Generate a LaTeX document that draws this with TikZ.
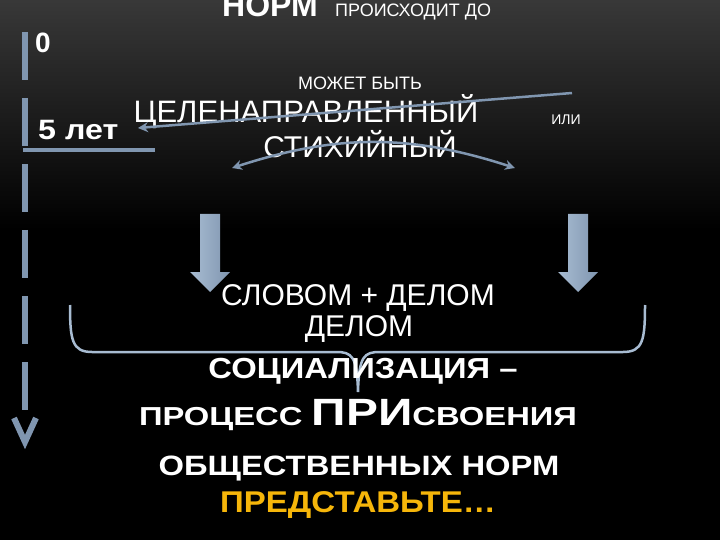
\documentclass[tikz,border=0pt]{standalone}
\usepackage{graphicx}
\usepackage{fontspec}
\setmainfont{Liberation Sans}
\usetikzlibrary{arrows.meta}

\definecolor{steel}{RGB}{128,150,176}
\definecolor{steellight}{RGB}{168,188,210}
\definecolor{gold}{RGB}{246,182,10}
\definecolor{glow}{RGB}{200,135,60}
\definecolor{topgray}{RGB}{56,56,56}

\newcommand\fsz[1]{\fontsize{#1}{#1}\selectfont}
\newcommand\widen[2]{\scalebox{#1}[1]{#2}}

\tikzset{
  txt/.style={text=white, inner sep=0pt, anchor=base},
  thinarrow/.style={draw=steel, line width=2.5pt, -{Stealth[length=10pt,width=10pt]}},
  timeline/.style={draw=steel, line width=6pt},
}

\begin{document}
\begin{tikzpicture}[x=1pt, y=-1pt]

%% background
\fill[black] (0,0) rectangle (720,540);
\shade[top color=topgray, bottom color=black] (0,0) rectangle (720,230);
\shade[left color=black, middle color=glow, right color=black] (45,466) rectangle (690,469);
\useasboundingbox (0,0) rectangle (720,540);

%% time axis
\coordinate (t0) at (25,32);
\coordinate (t1) at (25,410);
\draw[timeline, dash pattern=on 48pt off 18pt] (t0) -- (t1);
\draw[timeline, line width=4pt] (23,150) -- (155,150);
\draw[timeline, miter limit=20] (14,418) -- (25,442) -- (36,418);

\node[txt, anchor=base west] (zero) at (35,53) {\fsz{28}\bfseries 0};
\node[txt, anchor=base west] (five) at (38,140) {\widen{1.15}{\fsz{28}\bfseries 5 лет}};

%% title line (cut off)
\node[txt, anchor=base west] (norm) at (222,17) {\fsz{32}\bfseries НОРМ};
\node[txt, anchor=base west] (occurs) at (335,17) {\fsz{18}ПРОИСХОДИТ ДО};

%% two kinds
\node[txt] (maybe) at (360,90) {\fsz{18}МОЖЕТ БЫТЬ};
\node[txt] (purpose) at (306,123) {\fsz{31}ЦЕЛЕНАПРАВЛЕННЫЙ};
\node[txt] (ili) at (566,125) {\fsz{14}ИЛИ};
\node[txt] (spont) at (360,158) {\fsz{30}СТИХИЙНЫЙ};

\coordinate (a1) at (572,93);
\coordinate (a2) at (138,128);
\draw[thinarrow] (a1) -- (a2);
\coordinate (c1) at (232,168);
\coordinate (c2) at (515,168);
\draw[thinarrow, {Stealth[length=10pt,width=10pt]}-{Stealth[length=10pt,width=10pt]}] (c1) to[bend left=18] (c2);

%% block arrows
\foreach \x in {210,578}{
  \shade[left color=steellight, right color=steel]
    (\x-10,214) -- (\x+10,214) -- (\x+10,272) -- (\x+20,272)
    -- (\x,292) -- (\x-20,272) -- (\x-10,272) -- cycle;
}

\node[txt] (wordsdeed) at (358,305) {\fsz{30}СЛОВОМ + ДЕЛОМ};
\node[txt] (deed) at (359,336) {\fsz{30}ДЕЛОМ};

%% brace
\draw[steellight, line width=2.5pt]
  (70,305) .. controls (70,340) and (72,352) .. (92,352) -- (336,352)
  .. controls (352,352) and (357,356) .. (358,392)
  .. controls (359,356) and (364,352) .. (380,352) -- (623,352)
  .. controls (643,352) and (645,340) .. (645,305);

\node[txt] (social) at (363,378) {\widen{1.13}{\fsz{29}\bfseries СОЦИАЛИЗАЦИЯ –}};
\node[txt] (process) at (358,425)
  {\widen{1.26}{\bfseries\fsz{26}ПРОЦЕСС \fsz{38}ПРИ\fsz{26}СВОЕНИЯ}};
\node[txt] (norms) at (359,475) {\widen{1.17}{\fsz{28}\bfseries ОБЩЕСТВЕННЫХ НОРМ}};
\node[txt, text=gold] (imagine) at (358,512) {\widen{1.1}{\fsz{30}\bfseries ПРЕДСТАВЬТЕ…}};

\end{tikzpicture}
\end{document}
